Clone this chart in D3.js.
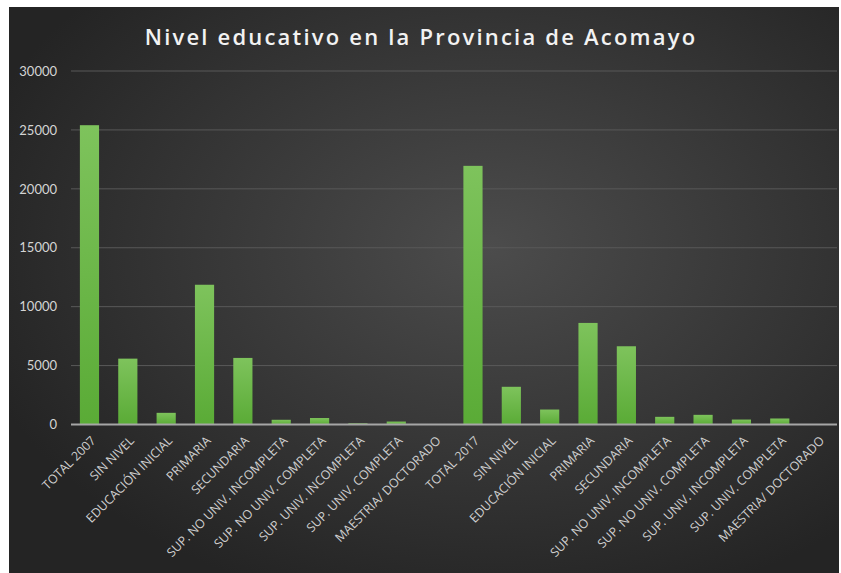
<!DOCTYPE html>
<html>
<head>
<meta charset="utf-8">
<script src="https://cdn.jsdelivr.net/npm/d3@7"></script>
<style>
  html, body { margin: 0; padding: 0; background: #ffffff; overflow: hidden; }
  svg { display: block; }
</style>
</head>
<body>
<script>
// Niveles educativos, censos 2007 y 2017
var categories = [
    "TOTAL 2007", "SIN NIVEL", "EDUCACIÓN INICIAL", "PRIMARIA", "SECUNDARIA",
    "SUP. NO UNIV. INCOMPLETA", "SUP. NO UNIV. COMPLETA", "SUP. UNIV. INCOMPLETA",
    "SUP. UNIV. COMPLETA", "MAESTRIA/ DOCTORADO",
    "TOTAL 2017", "SIN NIVEL", "EDUCACIÓN INICIAL", "PRIMARIA", "SECUNDARIA",
    "SUP. NO UNIV. INCOMPLETA", "SUP. NO UNIV. COMPLETA", "SUP. UNIV. INCOMPLETA",
    "SUP. UNIV. COMPLETA", "MAESTRIA/ DOCTORADO"
];
var values = [
    25400, 5590, 990, 11860, 5650, 400, 550, 100, 250, 30,
    21950, 3200, 1270, 8620, 6640, 650, 820, 420, 510, 40
];
var yTicks = [0, 5000, 10000, 15000, 20000, 25000, 30000];

var W = 841, H = 573;
var svg = d3.select("body").append("svg")
    .attr("width", W)
    .attr("height", H);

var defs = svg.append("defs");
var bg = defs.append("radialGradient")
    .attr("id", "bgGrad")
    .attr("cx", "58%").attr("cy", "42%").attr("r", "65%");
bg.append("stop").attr("offset", "0%").attr("stop-color", "#4c4c4c");
bg.append("stop").attr("offset", "100%").attr("stop-color", "#242424");

var barGrad = defs.append("linearGradient")
    .attr("id", "barGrad")
    .attr("x1", 0).attr("y1", 0).attr("x2", 0).attr("y2", 1);
barGrad.append("stop").attr("offset", "0%").attr("stop-color", "#7ec35c");
barGrad.append("stop").attr("offset", "100%").attr("stop-color", "#5aab36");

// Dark chart area
svg.append("rect")
    .attr("x", 9).attr("y", 7)
    .attr("width", 830).attr("height", H)
    .attr("fill", "url(#bgGrad)");

// Title
svg.append("text")
    .attr("x", 421).attr("y", 45)
    .attr("text-anchor", "middle")
    .style("font-family", "'Open Sans', sans-serif")
    .style("font-size", "22px")
    .style("font-weight", 600)
    .style("letter-spacing", "2.2px")
    .style("fill", "#f2f2f2")
    .text("Nivel educativo en la Provincia de Acomayo");

var x = d3.scaleBand()
    .domain(d3.range(categories.length))
    .range([70.3, 837.3])
    .paddingInner(0.5)
    .paddingOuter(0.25);

var y = d3.scaleLinear()
    .domain([0, 30000])
    .range([424.5, 71]);

// Gridlines
svg.append("g")
    .selectAll("line")
    .data(yTicks.filter(function (d) { return d > 0; }))
    .enter().append("line")
    .attr("x1", 71).attr("x2", 837)
    .attr("y1", function (d) { return y(d); })
    .attr("y2", function (d) { return y(d); })
    .attr("stroke", "#595959")
    .attr("stroke-width", 1);

// Y axis labels
var yAxis = svg.append("g")
    .attr("transform", "translate(57,0)")
    .call(d3.axisLeft(y).tickValues(yTicks).tickSize(0).tickPadding(0).tickFormat(d3.format("d")));
yAxis.select(".domain").remove();
yAxis.selectAll("text")
    .style("font-family", "Lato, sans-serif")
    .style("font-size", "13px")
    .style("fill", "#d4d4d4");

// Bars
svg.append("g")
    .selectAll("rect")
    .data(values)
    .enter().append("rect")
    .attr("x", function (d, i) { return x(i); })
    .attr("y", function (d) { return y(d); })
    .attr("width", x.bandwidth())
    .attr("height", function (d) { return y(0) - y(d); })
    .attr("fill", "url(#barGrad)");

// Baseline
svg.append("line")
    .attr("x1", 71).attr("x2", 837)
    .attr("y1", y(0)).attr("y2", y(0))
    .attr("stroke", "#a6a6a6")
    .attr("stroke-width", 2);

// X axis labels
var xAxis = svg.append("g")
    .attr("transform", "translate(0," + y(0) + ")")
    .call(d3.axisBottom(x).tickSize(0).tickFormat(function (i) { return categories[i]; }));
xAxis.select(".domain").remove();
xAxis.selectAll("text")
    .attr("text-anchor", "end")
    .attr("dy", null)
    .attr("y", 0)
    .attr("transform", "translate(7,17) rotate(-45)")
    .style("font-family", "'Open Sans', sans-serif")
    .style("font-size", "12.4px")
    .style("fill", "#cfcfcf");
</script>
</body>
</html>
